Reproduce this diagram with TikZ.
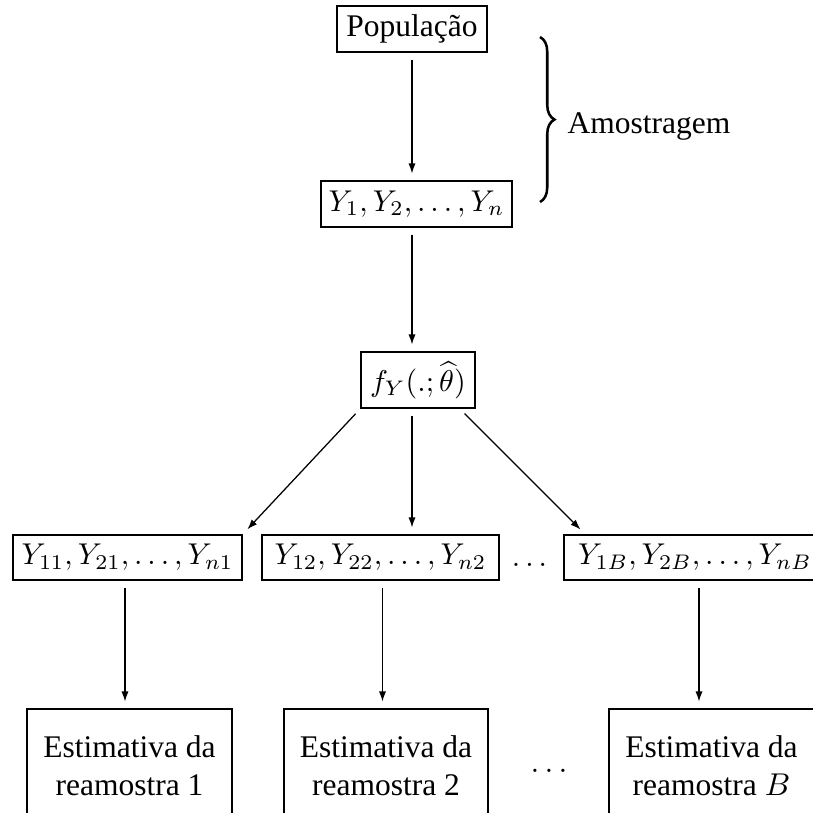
\documentclass[tikz,border=0pt]{standalone}
\usepackage{graphicx}
\usepackage[no-math]{fontspec}
\setmainfont{Liberation Serif}
\usetikzlibrary{arrows.meta,calc,decorations.pathreplacing}
\newdimen\px
\px=0.3175pt
\newcommand{\smath}[1]{\scalebox{0.955}{$#1$}}
\tikzset{
  box/.style={draw, line width=0.4pt, inner sep=0pt, align=center},
  arr/.style={-{Latex[length=3.2pt,width=2.3pt]}, line width=0.4pt, shorten <=2.2pt, shorten >=2.2pt},
}
\begin{document}
\begin{tikzpicture}[x=0.3175pt,y=-0.3175pt]
\clip (0,0) rectangle (813,813);
\useasboundingbox (0,0) rectangle (813,813);
% row 1-3
\node[box, minimum width=150\px, minimum height=46\px] (pop) at (412,29) {População};
\node[box, minimum width=191\px, minimum height=46\px] (ys) at (416.5,204) {\smath{Y_1, Y_2, \ldots, Y_n}};
\node[box, minimum width=114\px, minimum height=56\px] (f) at (418,380) {\smath{f_Y(.;\widehat{\theta})}};
% resamples
\node[box, minimum width=229\px, minimum height=45\px] (r1) at (127.5,557.5) {\smath{Y_{11}, Y_{21}, \ldots, Y_{n1}}};
\node[box, minimum width=237\px, minimum height=45\px] (r2) at (380.5,557.5) {\smath{Y_{12}, Y_{22}, \ldots, Y_{n2}}};
\node[box, minimum width=262\px, minimum height=45\px] (r3) at (695,557.5) {\smath{Y_{1B}, Y_{2B}, \ldots, Y_{nB}}};
\node[inner sep=0pt, anchor=base] (rdots) at (529.5,566) {\smath{\ldots}};
% estimates
\node[box, minimum width=205\px, minimum height=114\px] (b1) at (129.5,766) {Estimativa da\\reamostra 1};
\node[box, minimum width=204\px, minimum height=114\px] (b2) at (386,766) {Estimativa da\\reamostra 2};
\node[box, minimum width=205\px, minimum height=114\px] (b3) at (711.5,766) {Estimativa da\\reamostra $B$};
\node[inner sep=0pt, anchor=base] (bdots) at (549,772) {$\ldots$};
% brace
\coordinate (bt) at (540,37);
\coordinate (bb) at (540,202);
\draw[decorate, decoration={brace, amplitude=4.6pt}, line width=0.8pt] (bt) -- (bb);
\node[inner sep=0pt, anchor=base west] (amo) at (567,133) {Amostragem};
% arrows
\draw[arr] (pop.south) -- (pop.south |- ys.north);
\draw[arr] (pop.south |- ys.south) -- (pop.south |- f.north);
\draw[arr] (pop.south |- f.south) -- (pop.south |- r2.north);
\draw[arr] (f.south west) -- (r1.north east);
\draw[arr] ($(f.south east)+(-16,0)$) -- ($(r3.north west)+(22,0)$);
\draw[arr] ($(r1.south)+(-2.5,0)$) -- ($(r1.south |- b1.north)+(-2.5,0)$);
\draw[arr] ($(r2.south)+(2,0)$) -- ($(r2.south |- b2.north)+(2,0)$);
\draw[arr] ($(r3.south)+(4,0)$) -- ($(r3.south |- b3.north)+(4,0)$);
\end{tikzpicture}
\end{document}
